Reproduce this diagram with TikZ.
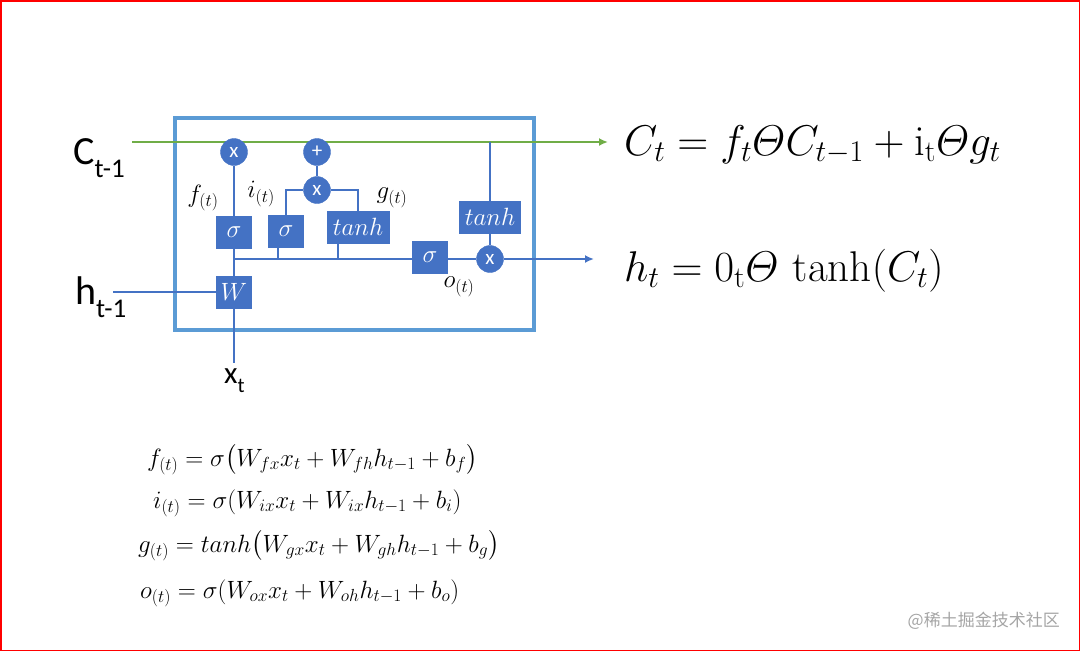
\RequirePackage{fix-cm}
\documentclass[tikz,border=0pt]{standalone}
\usepackage{amsmath}
\usepackage{fontspec}
\setsansfont{Carlito}
\newfontfamily\cjkfont{Noto Sans CJK SC}
\usetikzlibrary{arrows.meta}

\definecolor{frameblue}{RGB}{91,155,213}
\definecolor{partblue}{RGB}{68,114,196}
\definecolor{cellgreen}{RGB}{112,173,71}
\definecolor{markgray}{RGB}{165,165,165}

\begin{document}
\begin{tikzpicture}[
  x=1pt, y=-1pt,
  >={Latex[length=9pt,width=8pt]},
  gate/.style={circle, fill=partblue, draw=partblue, inner sep=0pt, minimum size=27pt,
    text=white, font=\sffamily\fontsize{21}{21}\selectfont},
  layer/.style={rectangle, fill=partblue, draw=partblue, inner sep=0pt, minimum height=32pt,
    minimum width=35pt, text=white, font=\fontsize{25}{25}\selectfont},
  wire/.style={partblue, line width=2.6pt},
  tag/.style={inner sep=0pt, font=\fontsize{25}{25}\selectfont},
  io/.style={anchor=base west, inner sep=0pt, font=\sffamily\fontsize{40}{40}\selectfont},
  bigeq/.style={anchor=base west, inner sep=0pt, font=\fontsize{43}{43}\selectfont},
  smalleq/.style={anchor=base west, inner sep=0pt, font=\fontsize{25}{25}\selectfont}
]
\useasboundingbox (0,0) rectangle (1080,651);
\draw[red, line width=1.5pt] (0.75,0.75) rectangle (1079.25,650.25);

% Cell frame
\draw[frameblue, line width=4.5pt] (175,118) rectangle (534,330);

% Cell state line
\coordinate (cin) at (132,142);
\coordinate (cout) at (608,142);
\coordinate (ctap) at (490,142);
\draw[cellgreen, line width=2.6pt, ->] (cin) -- (cout);

% Gates and layers
\node[gate] (fx) at (234,152) {x};
\node[gate] (plus) at (317,152) {+};
\node[gate] (ix) at (317,190) {x};
\node[layer] (fsig) at (234,232) {$\sigma$};
\node[layer] (isig) at (286,231) {$\sigma$};
\node[layer, minimum width=62pt] (gtanh) at (358,227) {$tanh$};
\node[layer] (osig) at (430,257) {$\sigma$};
\node[layer, minimum width=61pt] (otanh) at (490,217) {$tanh$};
\node[gate] (ox) at (490,259) {x};
\node[layer] (W) at (234,292) {$W$};

% Inputs and outputs
\coordinate (hin) at (113,292);
\coordinate (xin) at (234,363);
\coordinate (split) at (234,259);
\coordinate (hout) at (594,259);

\draw[wire] (hin) -- (W);
\draw[wire] (W) -- (xin);
\draw[wire] (W) -- (fsig);
\draw[wire] (fsig) -- (fx);
\draw[wire] (split) -- (split -| osig.west);
\draw[wire] ([xshift=-8pt]isig.south) -- ([xshift=-8pt]isig.south |- split);
\draw[wire] ([xshift=-20pt]gtanh.south) -- ([xshift=-20pt]gtanh.south |- split);
\draw[wire] (isig.north) |- (ix.west);
\draw[wire] (gtanh.north) |- (ix.east);
\draw[wire] (ix) -- (plus);
\draw[wire] (osig.east |- ox) -- (ox);
\draw[wire] (ctap) -- (otanh.north);
\draw[wire] (otanh) -- (ox);
\draw[wire, ->] (ox) -- (hout);

% Labels
\node[tag] (flab) at (203,198) {$f_{(t)}$};
\node[tag] (ilab) at (261,194) {$i_{(t)}$};
\node[tag] (glab) at (392,198) {$g_{(t)}$};
\node[tag] (olab) at (459,287) {$o_{(t)}$};

\node[io] (cprev) at (73,164) {C\raisebox{-13pt}{\fontsize{27}{27}\selectfont t-1}};
\node[io] (hprev) at (75,304) {h\raisebox{-13pt}{\fontsize{27}{27}\selectfont t-1}};
\node[io, font=\sffamily\fontsize{31}{31}\selectfont] (xcur) at (224,383)
  {x\raisebox{-9pt}{\fontsize{21}{21}\selectfont t}};

% Output equations
\node[bigeq] (ceq) at (624,155)
  {$C_t = f_t\varTheta C_{t-1} + \mathrm{i}_{\mathrm{t}}\varTheta g_t$};
\node[bigeq] (heq) at (624,281)
  {$h_t = 0_{\mathrm{t}}\varTheta\,\tanh(C_t)$};

% Gate equations
\node[smalleq] (feq) at (147,466)
  {$f_{(t)} = \sigma\bigl(W_{fx}x_t + W_{fh}h_{t-1} + b_f\bigr)$};
\node[smalleq] (ieq) at (153,508)
  {$i_{(t)} = \sigma(W_{ix}x_t + W_{ix}h_{t-1} + b_i)$};
\node[smalleq] (geq) at (138,552)
  {$g_{(t)} = tanh\bigl(W_{gx}x_t + W_{gh}h_{t-1} + b_g\bigr)$};
\node[smalleq] (oeq) at (140,598)
  {$o_{(t)} = \sigma(W_{ox}x_t + W_{oh}h_{t-1} + b_o)$};

% Watermark
\node[anchor=east, inner sep=0pt, text=markgray, font=\cjkfont\fontsize{17}{17}\selectfont]
  (mark) at (1060,621) {@稀土掘金技术社区};
\end{tikzpicture}
\end{document}
